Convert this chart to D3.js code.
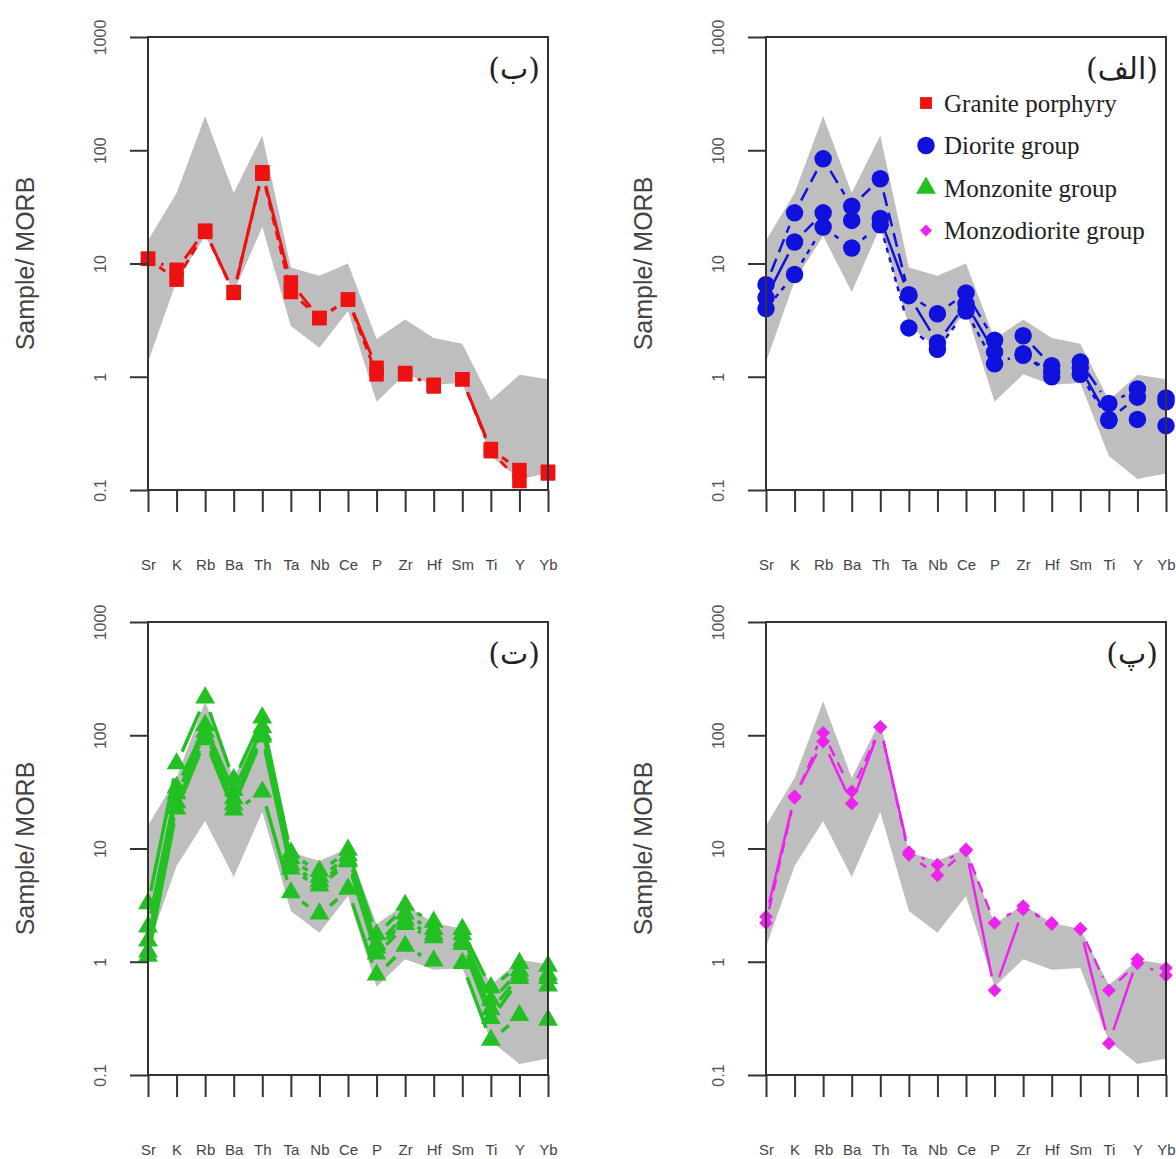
<!DOCTYPE html>
<html><head><meta charset="utf-8">
<script src="https://cdn.jsdelivr.net/npm/d3@7"></script>
<style>body{margin:0;background:#fff}</style>
</head><body><svg id="c" width="1176" height="1159" xmlns="http://www.w3.org/2000/svg"></svg>
<script>
// ---------- data ----------
const elements = ["Sr","K","Rb","Ba","Th","Ta","Nb","Ce","P","Zr","Hf","Sm","Ti","Y","Yb"];
const yTicks = [0.1, 1, 10, 100, 1000];
const yTickLabels = ["0.1", "1", "10", "100", "1000"];
const yTitle = "Sample/ MORB";

// grey reference field (upper / lower envelope)
const fieldUpper = [16, 42, 200, 42, 135, 9.2, 7.8, 10, 2.15, 3.2, 2.2, 1.96, 0.62, 1.04, 0.95];
const fieldLower = [1.35, 7, 17.5, 5.6, 21, 2.8, 1.8, 3.8, 0.6, 1.05, 0.85, 0.88, 0.2, 0.125, 0.14];

// Granite porphyry samples
const graniteA = [11, 8.8, 19.5, 5.5, 64, 6.8, 3.3, 4.8, 1.2, 1.08, 0.82, 0.95, 0.23, 0.15, 0.145];
const graniteB = [11, 7.2, 19, 5.6, 62, 5.6, 3.3, 4.8, 1.05, 1.05, 0.85, 0.95, 0.22, 0.12, 0.14];

// Diorite group samples
const dioriteA = [6.5, 28, 84, 32, 56, 5.3, 3.6, 5.5, 2.1, 2.3, 1.25, 1.35, 0.58, 0.78, 0.65];
const dioriteB = [5.0, 15.5, 28, 24, 25, 5.2, 2.0, 4.4, 1.65, 1.55, 1.1, 1.2, 0.42, 0.66, 0.6];
const dioriteC = [4.0, 8, 21, 13.7, 22, 2.7, 1.75, 3.8, 1.3, 1.6, 1.0, 1.05, 0.41, 0.42, 0.37];

// Monzonite group samples
const monzA = [3.2, 55, 210, 40, 140, 9, 6.2, 9.5, 1.7, 3.1, 2.2, 1.9, 0.58, 0.95, 0.9];
const monzB = [2.0, 34, 120, 32, 115, 8, 5.5, 8.5, 1.4, 2.6, 1.9, 1.7, 0.45, 0.82, 0.75];
const monzC = [1.5, 30, 105, 27, 100, 7, 5.0, 7.8, 1.3, 2.3, 1.7, 1.5, 0.37, 0.75, 0.7];
const monzD = [1.2, 25, 95, 24, 95, 6.5, 4.6, 7.5, 1.15, 2.1, 1.6, 1.4, 0.31, 0.7, 0.6];
const monzE = [1.1, 22, 90, 21.5, 31, 4.0, 2.6, 4.3, 0.75, 1.35, 1.0, 0.95, 0.2, 0.33, 0.3];

// Monzodiorite group samples
const mdA = [2.5, 29, 88, 25, 118, 9.3, 7.2, 9.8, 0.56, 2.9, 2.2, 1.95, 0.19, 1.05, 0.88];
const mdB = [2.2, 28, 105, 32, 118, 8.8, 5.8, 9.6, 2.2, 3.1, 2.15, 1.95, 0.56, 0.97, 0.76];

const legendLabels = ["Granite porphyry", "Diorite group", "Monzonite group", "Monzodiorite group"];
const panelLabels = ["(ب)", "(الف)", "(ت)", "(پ)"];

// ---------- layout ----------
const W = 400, H = 453;
const svg = d3.select("#c");

const C_RED = "#ee1111", C_BLUE = "#1111dd", C_GREEN = "#22c022", C_MAG = "#ee22ee";

const panels = [
  {x0:148, y0:37,  label:panelLabels[0], color:C_RED,   shape:"square",  size:210, lw:3,
   series:[graniteA, graniteB], dash:["", "9,6"]},
  {x0:766, y0:37,  label:panelLabels[1], color:C_BLUE,  shape:"circle",  size:240, lw:2.5,
   series:[dioriteA, dioriteB, dioriteC], dash:["14,7", "", "5,5"], legend:true},
  {x0:148, y0:622, label:panelLabels[2], color:C_GREEN, shape:"triangle",size:170, lw:3.5,
   series:[monzA, monzB, monzC, monzD, monzE], dash:["", "", "", "", ""]},
  {x0:766, y0:622, label:panelLabels[3], color:C_MAG,   shape:"diamond", size:95, lw:2.5,
   series:[mdA, mdB], dash:["", "12,7"]}
];

function symbolPath(shape, size){
  const t = shape==="square"||shape==="diamond" ? d3.symbolSquare :
            shape==="circle" ? d3.symbolCircle : d3.symbolTriangle;
  return d3.symbol().type(t).size(size)();
}

panels.forEach(p => {
  const g = svg.append("g").attr("transform", `translate(${p.x0},${p.y0})`);
  const x = d3.scalePoint().domain(elements).range([0, W]);
  const y = d3.scaleLog().domain([0.1, 1000]).range([H, 0]);

  // grey field
  const area = d3.area()
    .x((d,i) => x(elements[i]))
    .y0((d,i) => y(fieldLower[i]))
    .y1((d,i) => y(fieldUpper[i]));
  g.append("path").datum(fieldUpper).attr("d", area).attr("fill", "#bebebe");

  // lines with gaps around points (type "b")
  const gap = 14;
  p.series.forEach((s, si) => {
    let d = "";
    for (let i = 0; i < s.length - 1; i++) {
      const x1 = x(elements[i]), y1 = y(s[i]), x2 = x(elements[i+1]), y2 = y(s[i+1]);
      const L = Math.hypot(x2-x1, y2-y1);
      if (L <= 2*gap + 2) continue;
      const ux = (x2-x1)/L, uy = (y2-y1)/L;
      d += `M${x1+ux*gap},${y1+uy*gap}L${x2-ux*gap},${y2-uy*gap}`;
    }
    g.append("path").attr("d", d).attr("fill","none").attr("stroke", p.color)
      .attr("stroke-width", p.lw).attr("stroke-dasharray", p.dash[si] || null);
  });

  // points
  const sp = symbolPath(p.shape, p.size);
  p.series.forEach(s => {
    g.selectAll(null).data(s).enter().append("path")
      .attr("d", sp)
      .attr("transform", (d,i) => `translate(${x(elements[i])},${y(d)})${p.shape==="diamond"?" rotate(45)":""}${p.shape==="triangle"?" translate(0,-1)":""}`)
      .attr("fill", p.color);
  });

  // box
  g.append("rect").attr("x",0).attr("y",0).attr("width",W).attr("height",H)
    .attr("fill","none").attr("stroke","#333").attr("stroke-width",2);

  // y axis
  const ya = g.append("g").call(d3.axisLeft(y).tickValues(yTicks)
      .tickFormat((d,i) => yTickLabels[i]).tickSize(18).tickSizeOuter(0));
  ya.select(".domain").remove();
  ya.selectAll("line").attr("stroke","#333").attr("stroke-width",2);
  ya.selectAll("text")
    .attr("x", 0).attr("dy", null)
    .attr("transform", "translate(-42,0) rotate(-90)")
    .attr("text-anchor","middle")
    .attr("font-family","Liberation Sans, Arial, sans-serif")
    .attr("font-size",16).attr("fill","#555");

  // x axis
  const xa = g.append("g").attr("transform", `translate(0,${H})`)
    .call(d3.axisBottom(x).tickSize(22).tickPadding(47).tickSizeOuter(0));
  xa.select(".domain").remove();
  xa.selectAll("line").attr("stroke","#333").attr("stroke-width",2);
  xa.selectAll("text").attr("font-family","Liberation Sans, Arial, sans-serif")
    .attr("font-size",15).attr("fill","#444");

  // y title
  g.append("text").attr("transform", `translate(-114,${H/2}) rotate(-90)`)
    .attr("text-anchor","middle").attr("font-family","Liberation Sans, Arial, sans-serif")
    .attr("font-size",25).attr("fill","#444").text(yTitle);

  // panel label
  g.append("text").attr("x", W-8).attr("y", 42).attr("text-anchor","end")
    .attr("font-family","DejaVu Serif, DejaVu Sans, serif").attr("font-size",30)
    .attr("fill","#222").text(p.label);

  if (p.legend) {
    const shapes = ["square","circle","triangle","diamond"];
    const sizes = [140, 240, 170, 70];
    const cols = [C_RED, C_BLUE, C_GREEN, C_MAG];
    legendLabels.forEach((lab, i) => {
      const ly = 66 + i*42.5;
      g.append("path").attr("d", symbolPath(shapes[i], sizes[i]))
        .attr("transform", `translate(160,${ly})${shapes[i]==="diamond"?" rotate(45)":""}`)
        .attr("fill", cols[i]);
      g.append("text").attr("x", 178).attr("y", ly).attr("dy","0.35em")
        .attr("font-family","Liberation Serif, Times New Roman, serif")
        .attr("font-size",25).attr("fill","#222").text(lab);
    });
  }
});
</script>
</body></html>
